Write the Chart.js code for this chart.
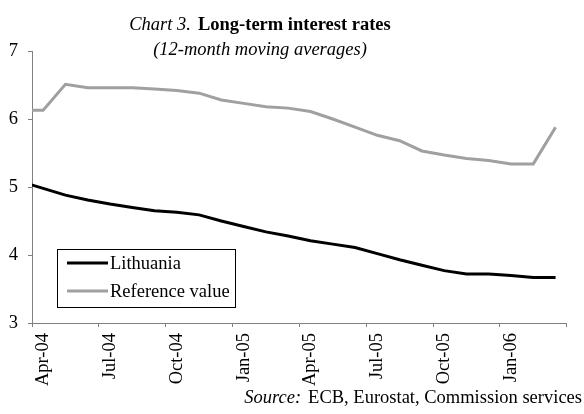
<!DOCTYPE html>
<html>
<head>
<meta charset="utf-8">
<script src="https://cdn.jsdelivr.net/npm/chart.js@4.4.0/dist/chart.umd.min.js"></script>
<style>
  html, body { margin: 0; padding: 0; background: #fff; }
  #wrap { width: 584px; height: 414px; }
</style>
</head>
<body>
<div id="wrap"><canvas id="rates" width="584" height="414"></canvas></div>
<script>
// Monthly 12-month moving averages (Mar-04 sits just left of the axis, clipped)
const months = ["Mar-04", "Apr-04", "May-04", "Jun-04", "Jul-04", "Aug-04", "Sep-04", "Oct-04", "Nov-04", "Dec-04",
  "Jan-05", "Feb-05", "Mar-05", "Apr-05", "May-05", "Jun-05", "Jul-05", "Aug-05", "Sep-05", "Oct-05",
  "Nov-05", "Dec-05", "Jan-06", "Feb-06", "Mar-06"];
const lithuania = [5.08, 4.98, 4.88, 4.81, 4.75, 4.70, 4.65, 4.63, 4.59, 4.50,
  4.42, 4.34, 4.28, 4.21, 4.16, 4.11, 4.02, 3.93, 3.85, 3.77,
  3.72, 3.72, 3.70, 3.67, 3.67];
const referenceValue = [6.13, 6.13, 6.51, 6.46, 6.46, 6.46, 6.44, 6.42, 6.38, 6.28,
  6.23, 6.18, 6.16, 6.11, 6.00, 5.88, 5.76, 5.68, 5.53, 5.47,
  5.42, 5.39, 5.34, 5.34, 5.88];
const yTicks = [3, 4, 5, 6, 7];

const SERIF = "'Liberation Serif', 'Times New Roman', serif";
const AXIS = "#808080";
const FS = 18.5;

// Title, subtitle, source note and the boxed legend inside the plot
const textPlugin = {
  id: "texts",
  afterDraw(chart) {
    const c = chart.ctx;
    c.save();
    c.fillStyle = "#000";
    c.textBaseline = "alphabetic";

    // title: italic part + bold part, centred together
    const a = "Chart 3.", b = "Long-term interest rates";
    c.font = "italic " + FS + "px " + SERIF;
    const wa = c.measureText(a).width;
    c.font = "bold " + FS + "px " + SERIF;
    const wb = c.measureText(b).width;
    const gap = 7;
    let x = 260 - (wa + gap + wb) / 2;
    c.textAlign = "left";
    c.font = "italic " + FS + "px " + SERIF;
    c.fillText(a, x, 30);
    c.font = "bold " + FS + "px " + SERIF;
    c.fillText(b, x + wa + gap, 30);

    c.font = "italic " + FS + "px " + SERIF;
    c.textAlign = "center";
    c.fillText("(12-month moving averages)", 260, 55);

    // source line, right aligned
    const s1 = "Source:", s2 = "ECB, Eurostat, Commission services";
    c.font = FS + "px " + SERIF;
    const w2 = c.measureText(s2).width;
    c.textAlign = "left";
    c.fillText(s2, 582 - w2, 403);
    c.font = "italic " + FS + "px " + SERIF;
    const w1 = c.measureText(s1).width;
    c.fillText(s1, 582 - w2 - 7 - w1, 403);

    // legend box
    c.strokeStyle = "#000";
    c.lineWidth = 1;
    c.strokeRect(57.5, 249.5, 178, 58);
    c.font = FS + "px " + SERIF;
    c.textBaseline = "middle";
    chart.data.datasets.forEach((ds, i) => {
      const y = 263 + i * 28;
      c.strokeStyle = ds.borderColor;
      c.lineWidth = 3;
      c.beginPath();
      c.moveTo(67, y);
      c.lineTo(108, y);
      c.stroke();
      c.fillText(ds.label, 110, y + 1);
    });
    c.restore();
  }
};

new Chart(document.getElementById("rates"), {
  type: "line",
  data: {
    labels: months,
    datasets: [
      { label: "Lithuania", data: lithuania, borderColor: "#000000", borderWidth: 3,
        pointRadius: 0, tension: 0, clip: { left: 0, top: 5, right: 5, bottom: 5 } },
      { label: "Reference value", data: referenceValue, borderColor: "#a0a0a0", borderWidth: 3,
        pointRadius: 0, tension: 0, clip: { left: 0, top: 5, right: 5, bottom: 5 } }
    ]
  },
  options: {
    responsive: false,
    animation: false,
    events: [],
    layout: { padding: { top: 51, right: 11, left: 0, bottom: 0 } },
    plugins: { legend: { display: false }, title: { display: false }, tooltip: { enabled: false } },
    scales: {
      x: {
        type: "category",
        min: "Apr-04",
        offset: true,
        afterFit(scale) { scale.height = 91; },
        grid: {
          offset: true,
          drawOnChartArea: false,
          tickLength: 4,
          tickColor: ctx => (ctx.index === undefined || ctx.index % 3 === 0) ? AXIS : "rgba(0,0,0,0)"
        },
        border: { color: AXIS, width: 1 },
        ticks: {
          autoSkip: false,
          minRotation: 90,
          maxRotation: 90,
          padding: 6,
          color: "#000",
          font: { family: SERIF, size: FS },
          callback(value) {
            return (value - 1) % 3 === 0 ? this.getLabelForValue(value) : "";
          }
        }
      },
      y: {
        min: yTicks[0],
        max: yTicks[yTicks.length - 1],
        afterFit(scale) { scale.width = 32; },
        afterBuildTicks(scale) { scale.ticks = yTicks.map(v => ({ value: v })); },
        grid: { drawOnChartArea: false, tickLength: 4, tickColor: AXIS },
        border: { color: AXIS, width: 1 },
        ticks: { color: "#000", padding: 10, font: { family: SERIF, size: FS } }
      }
    }
  },
  plugins: [textPlugin]
});
</script>
</body>
</html>
